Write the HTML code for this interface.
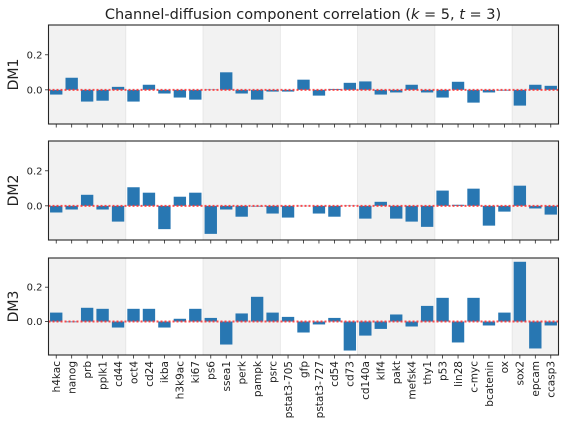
<!DOCTYPE html>
<html><head><meta charset="utf-8"><style>
body{margin:0;background:#fff;}
svg{display:block;font-family:"DejaVu Sans","Liberation Sans",sans-serif;}
</style></head><body>
<svg id="chart" width="568" height="424" viewBox="0 0 568 424" xmlns="http://www.w3.org/2000/svg">
<text x="303" y="19" text-anchor="middle" font-size="14.5" fill="#222">Channel-diffusion component correlation (<tspan font-style="italic">k</tspan> = 5, <tspan font-style="italic">t</tspan> = 3)</text>
</svg>
<script>
const categories=["h4kac","nanog","prb","pplk1","cd44","oct4","cd24","ikba","h3k9ac","ki67","ps6","ssea1","perk","pampk","psrc","pstat3-705","gfp","pstat3-727","cd54","cd73","cd140a","klf4","pakt","mefsk4","thy1","p53","lin28","c-myc","bcatenin","ox","sox2","epcam","ccasp3"];
const dm1=[-0.027,0.069,-0.067,-0.062,0.017,-0.067,0.029,-0.021,-0.044,-0.056,0.002,0.1,-0.021,-0.056,-0.01,-0.01,0.058,-0.033,0.005,0.04,0.048,-0.027,-0.015,0.029,-0.015,-0.044,0.046,-0.073,-0.015,-0.004,-0.09,0.029,0.023];
const dm2=[-0.038,-0.021,0.063,-0.021,-0.09,0.106,0.075,-0.133,0.052,0.075,-0.16,-0.021,-0.062,-0.004,-0.044,-0.067,0.0,-0.044,-0.062,0.001,-0.073,0.023,-0.073,-0.09,-0.12,0.087,0.006,0.098,-0.113,-0.033,0.115,-0.015,-0.05];
const dm3=[0.052,-0.004,0.08,0.074,-0.035,0.074,0.074,-0.035,0.016,0.074,0.021,-0.134,0.047,0.144,0.052,0.027,-0.064,-0.017,0.021,-0.169,-0.082,-0.043,0.041,-0.029,0.091,0.138,-0.122,0.138,-0.023,0.052,0.348,-0.157,-0.023];
const seriesNames=["DM1","DM2","DM3"];
const yTicks=[0.0,0.2];
const yTickLabels=["0.0","0.2"];

const NS="http://www.w3.org/2000/svg";
const svg=document.getElementById('chart');
const L=48.5,R=558.5,yMin=-0.195,yMax=0.37;
const panels=[[25,124],[141,240],[258,355]];
const series=[dm1,dm2,dm3];
const n=categories.length;
function xc(i){return L+(i+0.5)*(R-L)/n;}
function mk(t,a){const e=document.createElementNS(NS,t);for(const k in a)e.setAttribute(k,a[k]);return e;}
const bw=(R-L)/n*0.8;
panels.forEach((p,pi)=>{
  const [top,bot]=p;
  const y=v=>top+(yMax-v)/(yMax-yMin)*(bot-top);
  const g=mk('g',{});
  
  
  svg.appendChild(g);
  for(let s=0;s<n;s+=10){
    const e=Math.min(s+5,n);
    const r=mk('rect',{x:xc(s)-(R-L)/n/2,y:top,width:(e-s)*(R-L)/n,height:bot-top,fill:'#f2f2f2',stroke:'#e4e4e4','stroke-width':0.8});
    
    
    g.appendChild(r);
  }
  series[pi].forEach((v,i)=>{
    const y0=y(0),y1=y(v);
    const r=mk('rect',{x:xc(i)-bw/2,y:Math.min(y0,y1),width:bw,height:Math.max(Math.abs(y1-y0),0.3),fill:'#2877b2'});
    
    
    g.appendChild(r);
  });
  const zl=mk('line',{x1:L,x2:R,y1:y(0),y2:y(0),stroke:'#ff3030','stroke-width':2,'stroke-dasharray':'2,2','opacity':0.85});
  
  
  g.appendChild(zl);
  const fr=mk('rect',{x:L,y:top,width:R-L,height:bot-top,fill:'none',stroke:'#262626','stroke-width':1.1});
  
  
  g.appendChild(fr);
  yTicks.forEach((t,k)=>{
    const tl=mk('line',{x1:L-3.5,x2:L,y1:y(t),y2:y(t),stroke:'#262626','stroke-width':0.8});
    
    
    g.appendChild(tl);
    const tx=mk('text',{x:L-6,y:y(t)+3.5,'text-anchor':'end','font-size':10,fill:'#222'});
    
    
    tx.textContent=yTickLabels[k];g.appendChild(tx);
  });
  const yl=mk('text',{x:0,y:0,'text-anchor':'middle','font-size':14,fill:'#222',transform:`translate(18,${(top+bot)/2}) rotate(-90)`});
  
  
  yl.textContent=seriesNames[pi];g.appendChild(yl);
  for(let i=0;i<n;i++){
    const tl=mk('line',{x1:xc(i),x2:xc(i),y1:bot,y2:bot+3.5,stroke:'#262626','stroke-width':0.8});
    
    
    g.appendChild(tl);
    if(pi===2){
      const tx=mk('text',{x:0,y:0,'text-anchor':'end','font-size':10.5,fill:'#222',transform:`translate(${xc(i)+3.8},${bot+6}) rotate(-90)`});
      
      
      tx.textContent=categories[i];g.appendChild(tx);
    }
  }
});
</script>
</body></html>
